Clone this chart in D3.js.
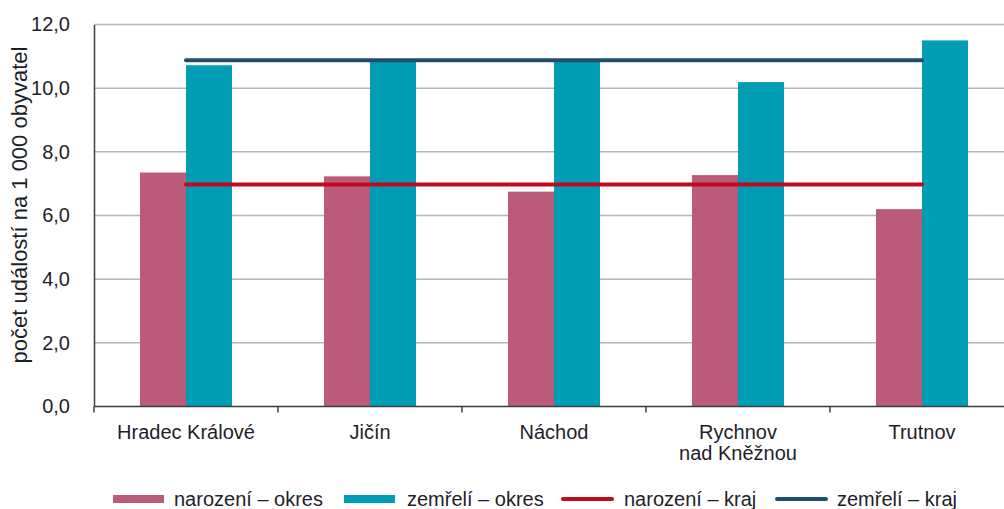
<!DOCTYPE html>
<html>
<head>
<meta charset="utf-8">
<script src="https://cdn.jsdelivr.net/npm/d3@7"></script>
<style>
  body { margin: 0; background: #fff; }
  text { font-family: "Liberation Sans", Arial, sans-serif; fill: #1e1e28; }
</style>
</head>
<body>
<div id="chart"></div>
<script>
const WIDTH = 1004;
const HEIGHT = 509;

const okresy = ["Hradec Králové", "Jičín", "Náchod", "Rychnov nad Kněžnou", "Trutnov"];
const popisky = [["Hradec Králové"], ["Jičín"], ["Náchod"], ["Rychnov", "nad Kněžnou"], ["Trutnov"]];
const narozeniOkres = [7.35, 7.23, 6.75, 7.27, 6.2];
const zemreliOkres = [10.72, 10.88, 10.9, 10.19, 11.5];
const narozeniKraj = 6.97;
const zemreliKraj = 10.88;
const yTicks = [0, 2, 4, 6, 8, 10, 12];

const serie = ["narozeni", "zemreli"];
const barvy = { narozeni: "#bc5a7c", zemreli: "#009db5", krajN: "#c00a1e", krajZ: "#1d4f6d" };

const svg = d3.select("#chart")
    .append("svg")
    .attr("width", WIDTH)
    .attr("height", HEIGHT);

const x = d3.scaleBand()
    .domain(okresy)
    .range([94, 1014])
    .padding(0);

const xSub = d3.scaleBand()
    .domain(serie)
    .range([0, x.bandwidth()])
    .paddingInner(0)
    .paddingOuter(1);

const y = d3.scaleLinear()
    .domain([0, 12])
    .range([406.5, 24.5]);

// mrizka
svg.append("g")
    .selectAll("line")
    .data(yTicks.slice(1))
    .enter().append("line")
    .attr("x1", 94)
    .attr("x2", WIDTH)
    .attr("y1", d => y(d))
    .attr("y2", d => y(d))
    .attr("stroke", "#b5b5b5")
    .attr("stroke-width", 1.5);

const data = okresy.map((o, i) => ({ okres: o, narozeni: narozeniOkres[i], zemreli: zemreliOkres[i] }));

const skupiny = svg.selectAll(".skupina")
    .data(data)
    .enter().append("g")
    .attr("class", "skupina")
    .attr("transform", d => `translate(${x(d.okres)},0)`);

skupiny.selectAll("rect")
    .data(d => serie.map(s => ({ s: s, v: d[s] })))
    .enter().append("rect")
    .attr("x", d => xSub(d.s))
    .attr("width", xSub.bandwidth())
    .attr("y", d => y(d.v))
    .attr("height", d => y(0) - y(d.v))
    .attr("fill", d => barvy[d.s]);

// krajske prumery
const xStart = x(okresy[0]) + x.bandwidth() / 2;
const xEnd = x(okresy[okresy.length - 1]) + x.bandwidth() / 2;
[[narozeniKraj, barvy.krajN], [zemreliKraj, barvy.krajZ]].forEach(([v, c]) => {
    svg.append("line")
        .attr("x1", xStart)
        .attr("x2", xEnd)
        .attr("y1", y(v))
        .attr("y2", y(v))
        .attr("stroke", c)
        .attr("stroke-width", 4)
        .attr("stroke-linecap", "round");
});

// osy
const osaX = svg.append("g")
    .attr("transform", `translate(0,${y(0)})`)
    .call(d3.axisBottom(x).tickSize(0).tickFormat(""));
osaX.select(".domain").attr("stroke", "#3c3c3c").attr("stroke-width", 1.5).attr("d", `M94,0H${WIDTH}`);

svg.append("g")
    .selectAll("line")
    .data(d3.range(okresy.length + 1))
    .enter().append("line")
    .attr("x1", i => i < okresy.length ? x(okresy[i]) : x(okresy[i - 1]) + x.bandwidth())
    .attr("x2", i => i < okresy.length ? x(okresy[i]) : x(okresy[i - 1]) + x.bandwidth())
    .attr("y1", y(0))
    .attr("y2", y(0) + 6)
    .attr("stroke", "#3c3c3c")
    .attr("stroke-width", 1.5);

okresy.forEach((o, i) => {
    const t = svg.append("text")
        .attr("x", x(o) + x.bandwidth() / 2)
        .attr("y", 439)
        .attr("text-anchor", "middle")
        .style("font-size", "20px");
    popisky[i].forEach((radek, j) => {
        t.append("tspan")
            .attr("x", x(o) + x.bandwidth() / 2)
            .attr("dy", j === 0 ? 0 : 21)
            .text(radek);
    });
});

const osaY = svg.append("g")
    .attr("transform", "translate(94,0)")
    .call(d3.axisLeft(y).tickValues(yTicks).tickSize(0).tickPadding(24)
        .tickFormat(d => d3.format(".1f")(d).replace(".", ",")));
osaY.select(".domain").attr("stroke", "#3c3c3c").attr("stroke-width", 1.5);
osaY.selectAll("text")
    .style("font-size", "20px")
    .style("font-family", "'Liberation Sans', Arial, sans-serif")
    .attr("fill", "#1e1e28");

svg.append("text")
    .attr("transform", "translate(27,205) rotate(-90)")
    .attr("text-anchor", "middle")
    .style("font-size", "22px")
    .text("počet událostí na 1 000 obyvatel");

// legenda
const legenda = [
    { nazev: "narození – okres", barva: barvy.narozeni, typ: "rect", x: 113, tx: 174 },
    { nazev: "zemřelí – okres", barva: barvy.zemreli, typ: "rect", x: 344, tx: 407 },
    { nazev: "narození – kraj", barva: barvy.krajN, typ: "line", x: 561, tx: 624 },
    { nazev: "zemřelí – kraj", barva: barvy.krajZ, typ: "line", x: 775, tx: 837 }
];

const leg = svg.append("g");
legenda.forEach(d => {
    if (d.typ === "rect") {
        leg.append("rect")
            .attr("x", d.x)
            .attr("y", 495)
            .attr("width", 51)
            .attr("height", 8)
            .attr("fill", d.barva);
    } else {
        leg.append("line")
            .attr("x1", d.x + 2)
            .attr("x2", d.x + 51)
            .attr("y1", 499)
            .attr("y2", 499)
            .attr("stroke", d.barva)
            .attr("stroke-width", 4)
            .attr("stroke-linecap", "round");
    }
    leg.append("text")
        .attr("x", d.tx)
        .attr("y", 506)
        .style("font-size", "20px")
        .text(d.nazev);
});
</script>
</body>
</html>
